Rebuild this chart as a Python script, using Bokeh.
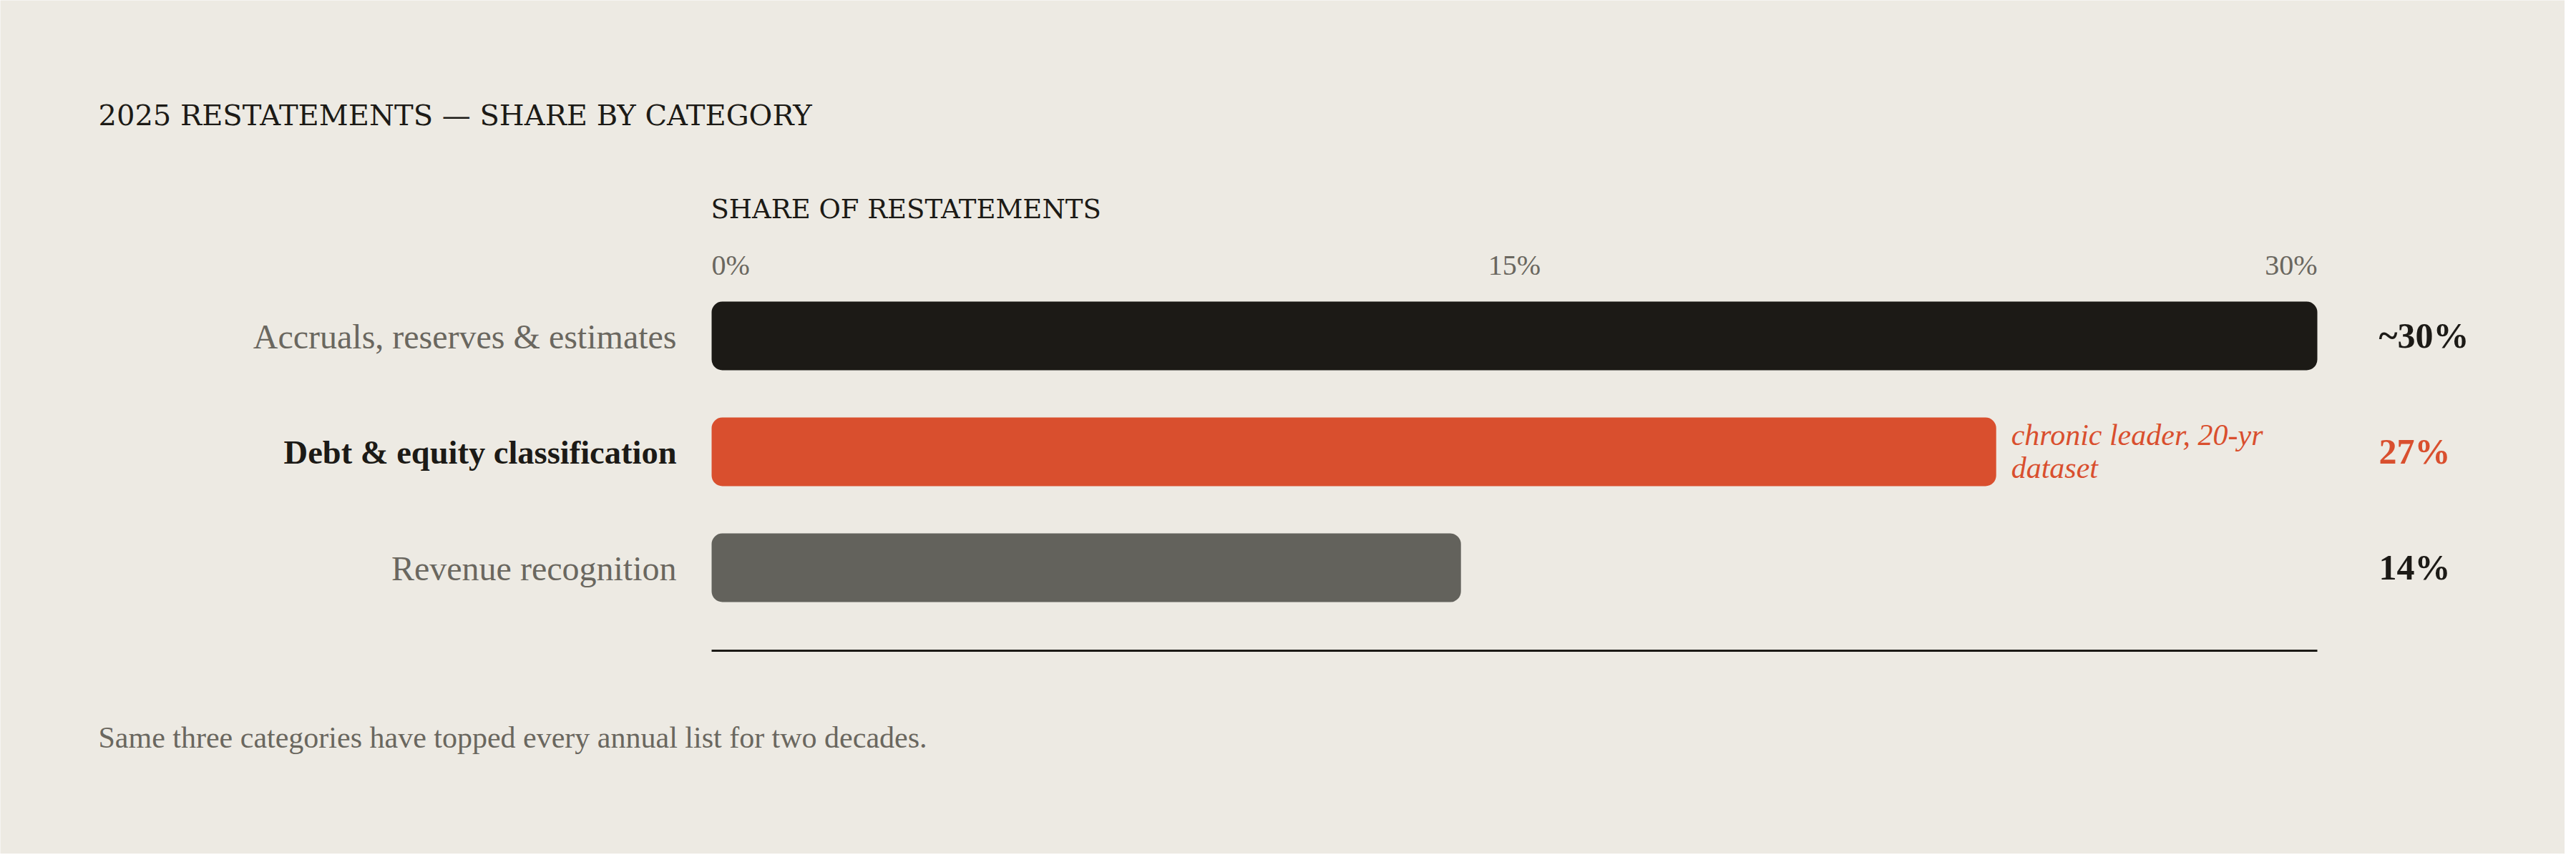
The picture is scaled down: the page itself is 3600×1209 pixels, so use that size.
from bokeh.plotting import figure
from bokeh.models import ColumnDataSource, Range1d
from bokeh.core.properties import value
from bokeh.embed import file_html
from bokeh.resources import INLINE

# ---------------- data ----------------
categories = ["Accruals, reserves & estimates", "Debt & equity classification", "Revenue recognition"]
shares = [30, 24, 14]                      # bar lengths as drawn (percent)
value_labels = ["~30%", "27%", "14%"]
highlight = [False, True, False]
tick_values = [0, 15, 30]
tick_labels = ["0%", "15%", "30%"]
annotation_text = "chronic leader, 20-yr\ndataset"
title_text = "2025 RESTATEMENTS \u2014 SHARE BY CATEGORY"
axis_title = "SHARE OF RESTATEMENTS"
footnote = "Same three categories have topped every annual list for two decades."

# ---------------- style ----------------
BG = "#edeae3"
INK = "#1c1a16"
RED = "#d94f2e"
GREY_BAR = "#63625c"
MUTED = "#6a675f"
SERIF = "Liberation Serif"
CAPS = "DejaVu Serif"

W, H = 3584, 1193
FRAME_L, FRAME_R = 994, 3238          # pixel positions of 0% and 30%
ROW0, ROW_STEP, BAR_H = 469, 162, 96

xmax = tick_values[-1]
pxu = (FRAME_R - FRAME_L) / (xmax - tick_values[0])
x_start = tick_values[0] - FRAME_L / pxu
x_end = x_start + W / pxu

p = figure(width=W, height=H, output_backend="svg", toolbar_location=None,
           x_range=Range1d(x_start, x_end), y_range=Range1d(H, 0),
           x_axis_location=None, y_axis_location=None, min_border=0)
p.background_fill_color = BG
p.border_fill_color = BG
p.outline_line_color = None
p.grid.visible = False

rows = [ROW0 + i * ROW_STEP for i in range(len(categories))]
bar_colors = [RED if h else (INK if i == 0 else GREY_BAR) for i, h in enumerate(highlight)]
label_colors = [INK if h else MUTED for h in highlight]
label_styles = ["bold" if h else "normal" for h in highlight]
label_sizes = ["46.5px" if h else "48px" for h in highlight]
value_colors = [RED if h else INK for h in highlight]

src = ColumnDataSource(dict(y=rows, cat=categories, share=shares, vlab=value_labels,
                            bcol=bar_colors, lcol=label_colors, lstyle=label_styles,
                            lsize=label_sizes, vcol=value_colors,
                            xmax=[xmax] * len(rows), zero=[0] * len(rows)))

p.hbar(y="y", left="zero", right="share", height=BAR_H, fill_color="bcol",
       line_color=None, border_radius=15, source=src)

# category labels
p.text(x="zero", y="y", text="cat", source=src, x_offset=-49, y_offset=1,
       text_align="right", text_baseline="alphabetic", text_font=value(SERIF),
       text_font_size="lsize", text_color="lcol", text_font_style="lstyle")

# value labels
p.text(x="xmax", y="y", text="vlab", source=src, x_offset=86, y_offset=-1,
       text_align="left", text_baseline="alphabetic", text_font=value(SERIF),
       text_font_size="50px", text_color="vcol", text_font_style="bold")

# annotation next to highlighted bar
hi = highlight.index(True)
p.text(x=[shares[hi]], y=[rows[hi]], text=[annotation_text], x_offset=21, y_offset=-47,
       text_align="left", text_baseline="top", text_font=value(SERIF),
       text_font_size="42px", text_font_style="italic", text_color=RED,
       text_line_height=1.02)

# tick labels
p.text(x=tick_values, y=[370] * len(tick_values), text=tick_labels,
       text_align=["left", "center", "right"], text_baseline="alphabetic",
       text_font=value(SERIF), text_font_size="40px", text_color=MUTED)

# axis title
p.text(x=[tick_values[0]], y=[292], text=[axis_title], x_offset=-1,
       text_align="left", text_baseline="alphabetic", text_font=value(CAPS),
       text_font_size="37px", text_color=INK)

# baseline rule
p.line(x=[tick_values[0], tick_values[-1]], y=[909, 909], line_color=INK, line_width=3)

# chart title and footnote (anchored through the data range)
x_left = x_start + 137 / pxu
p.text(x=[x_left], y=[160], text=[title_text], text_align="left", text_baseline="alphabetic",
       text_font=value(CAPS), text_font_size="40px", text_color=INK)
p.text(x=[x_left], y=[1030], text=[footnote], text_align="left", text_baseline="alphabetic",
       text_font=value(SERIF), text_font_size="42px", text_color=MUTED)

open("out.html", "w").write(file_html(p, INLINE))
